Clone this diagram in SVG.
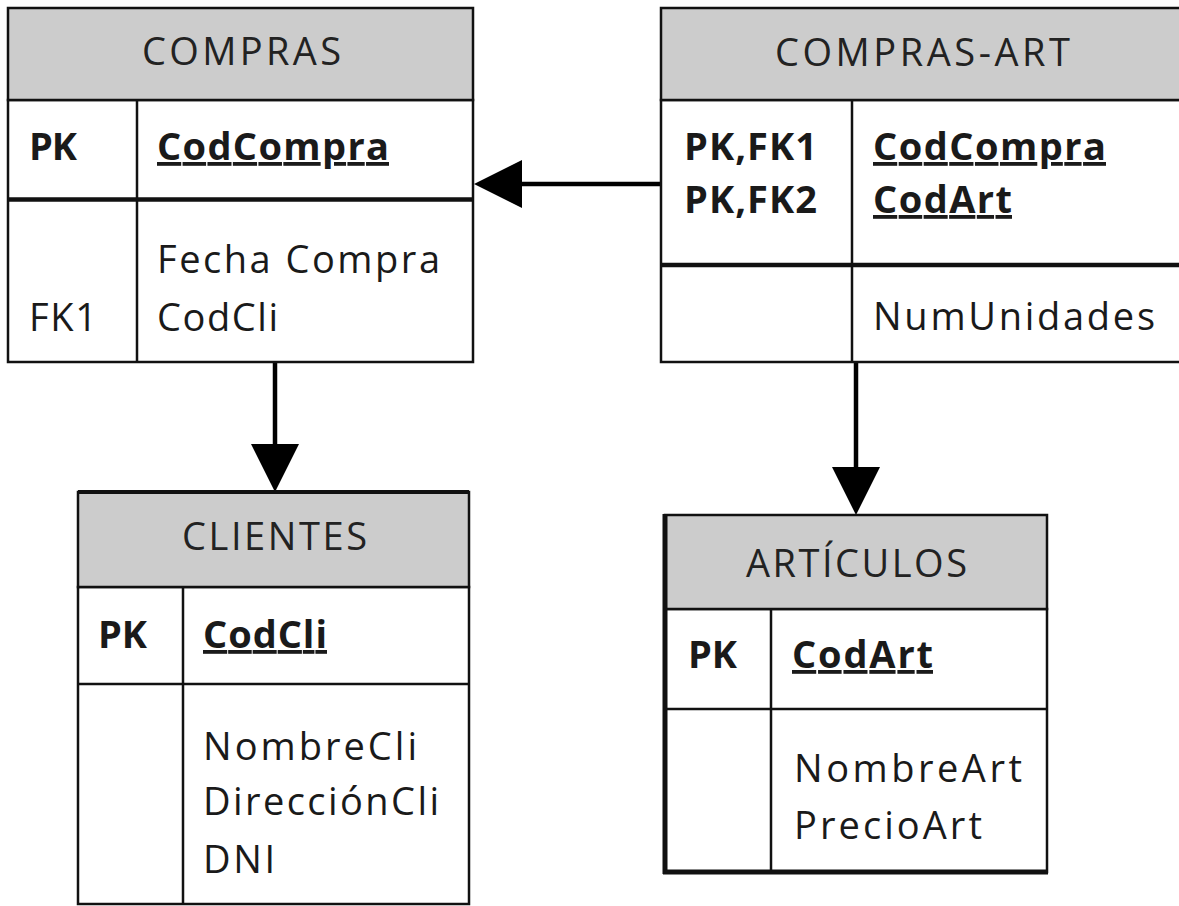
<svg xmlns="http://www.w3.org/2000/svg" width="1179" height="906" viewBox="0 0 1179 906">
<style>
.hdr{fill:#cccccc;stroke:#111;stroke-width:2.5}
.box{fill:#ffffff;stroke:#111;stroke-width:2.5}
.ln{stroke:#111;stroke-width:2.5}
.thick{stroke:#111;stroke-width:4.5}
.edge{stroke:#111;stroke-width:5}
text{font-family:"Open Sans",Lato,"Liberation Sans",sans-serif;font-size:38px;fill:#1a1a1a}
.h{fill:#222}
.b{font-weight:bold}
.u{text-decoration:underline}
.conn{stroke:#000;stroke-width:4.5;fill:none;marker-end:url(#tri)}
</style>
<defs>
<marker id="tri" viewBox="-1 -25 50 50" markerWidth="50" markerHeight="50" refX="0" refY="0" orient="auto" markerUnits="userSpaceOnUse">
<path d="M0,-24 L48,0 L0,24 Z" fill="#000"/>
</marker>
</defs>
<rect width="1179" height="906" fill="#ffffff"/>

<g id="connectors">
<line class="conn" x1="661" y1="184" x2="522" y2="184"/>
<line class="conn" x1="275" y1="362" x2="275" y2="444"/>
<line class="conn" x1="856" y1="362" x2="856" y2="467"/>
</g>

<g id="compras">
<rect class="box" x="8" y="100" width="465" height="262"/>
<rect class="hdr" x="8" y="8" width="465" height="92"/>
<line class="ln" x1="137" y1="100" x2="137" y2="362"/>
<line class="thick" x1="8" y1="199.5" x2="473" y2="199.5"/>
<text class="h" x="142" y="65" textLength="199">COMPRAS</text>
<text class="b" x="29" y="160" textLength="48">PK</text>
<text class="b u" x="157" y="160" textLength="232">CodCompra</text>
<text x="157" y="273" textLength="283">Fecha Compra</text>
<text x="29" y="331" textLength="68">FK1</text>
<text x="157" y="331" textLength="121">CodCli</text>
</g>

<g id="compras-art">
<rect class="box" x="661" y="100" width="530" height="262"/>
<rect class="hdr" x="661" y="8" width="530" height="92"/>
<line class="ln" x1="852" y1="100" x2="852" y2="362"/>
<line class="thick" x1="661" y1="265" x2="1191" y2="265"/>
<text class="h" x="775" y="66" textLength="295">COMPRAS-ART</text>
<text class="b" x="684" y="160" textLength="133">PK,FK1</text>
<text class="b" x="684" y="213" textLength="133">PK,FK2</text>
<text class="b u" x="873" y="160" textLength="233">CodCompra</text>
<text class="b u" x="873" y="213" textLength="139">CodArt</text>
<text x="873" y="330" textLength="282">NumUnidades</text>
</g>

<g id="clientes">
<rect class="box" x="78" y="587" width="391" height="317"/>
<rect class="hdr" x="78" y="492" width="391" height="95"/>
<line class="ln" x1="78" y1="492" x2="469" y2="492" style="stroke-width:4"/>
<line class="ln" x1="183" y1="587" x2="183" y2="904"/>
<line class="ln" x1="78" y1="684" x2="469" y2="684"/>
<text class="h" x="182" y="550" textLength="185">CLIENTES</text>
<text class="b" x="98" y="648" textLength="49">PK</text>
<text class="b u" x="203" y="648" textLength="124">CodCli</text>
<text x="203" y="760" textLength="214">NombreCli</text>
<text x="203" y="815" textLength="236">DirecciónCli</text>
<text x="203" y="873" textLength="72">DNI</text>
</g>

<g id="articulos">
<rect class="box" x="665" y="609" width="382" height="263"/>
<rect class="hdr" x="665" y="515" width="382" height="94"/>
<line class="ln" x1="771" y1="609" x2="771" y2="872"/>
<line class="ln" x1="665" y1="709" x2="1047" y2="709"/>
<line class="edge" x1="665" y1="514" x2="665" y2="874"/>
<line class="edge" x1="663" y1="872" x2="1048" y2="872"/>
<text class="h" x="746" y="577" textLength="221">ARTÍCULOS</text>
<text class="b" x="688" y="668" textLength="49">PK</text>
<text class="b u" x="792" y="668" textLength="141">CodArt</text>
<text x="794" y="782" textLength="228">NombreArt</text>
<text x="794" y="839" textLength="188">PrecioArt</text>
</g>
</svg>
